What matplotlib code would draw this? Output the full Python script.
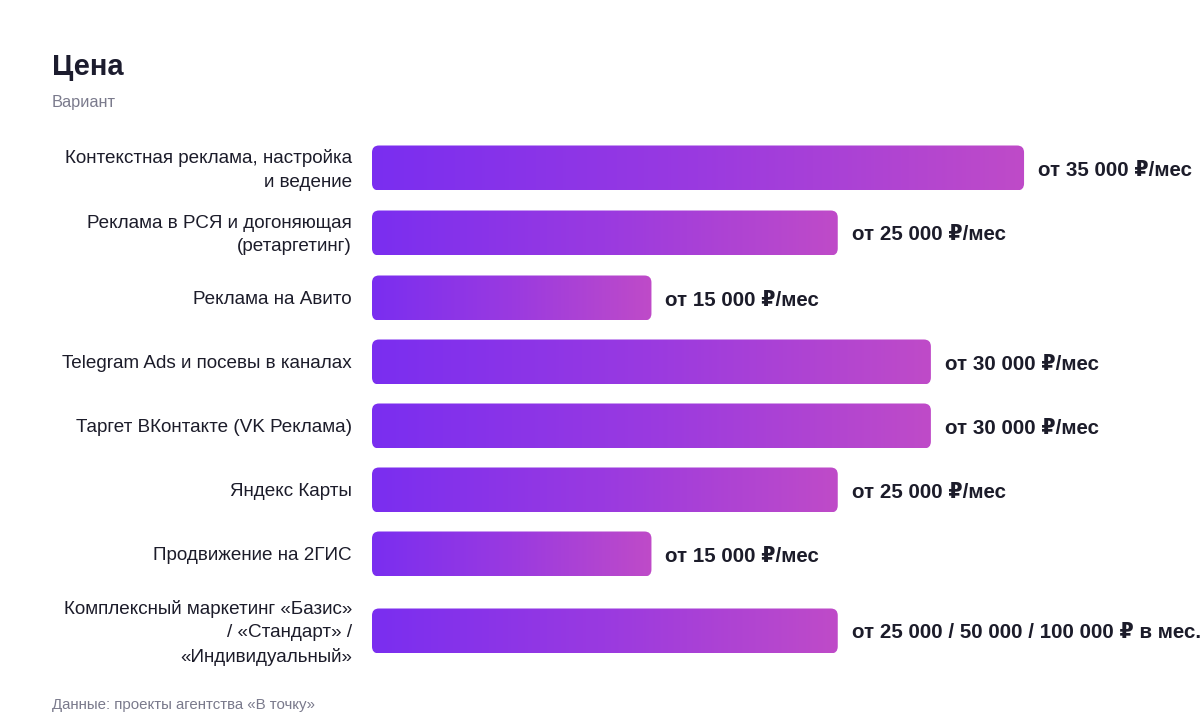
import numpy as np
import matplotlib
matplotlib.use("Agg")
import matplotlib.pyplot as plt
from matplotlib.colors import LinearSegmentedColormap
from matplotlib.patches import FancyBboxPatch

plt.rcParams['font.family'] = ['Liberation Sans', 'DejaVu Sans']

categories = [
    "Контекстная реклама, настройка\nи ведение",
    "Реклама в РСЯ и догоняющая\n(ретаргетинг)",
    "Реклама на Авито",
    "Telegram Ads и посевы в каналах",
    "Таргет ВКонтакте (VK Реклама)",
    "Яндекс Карты",
    "Продвижение на 2ГИС",
    "Комплексный маркетинг «Базис»\n/ «Стандарт» /\n«Индивидуальный»",
]
values = [35000, 25000, 15000, 30000, 30000, 25000, 15000, 25000]
value_labels = [
    "от 35 000 ₽/мес",
    "от 25 000 ₽/мес",
    "от 15 000 ₽/мес",
    "от 30 000 ₽/мес",
    "от 30 000 ₽/мес",
    "от 25 000 ₽/мес",
    "от 15 000 ₽/мес",
    "от 25 000 / 50 000 / 100 000 ₽ в мес.",
]

# row centres in pixels (last row is taller because of the 3-line label)
rows = [168, 233, 298, 362, 426, 490, 554, 631]
bar_h = 45
px_per_unit = 18.63 / 1000.0

W, H = 1200, 712
fig = plt.figure(figsize=(W / 100, H / 100), dpi=100)
fig.patch.set_facecolor("white")

left_px = 372
ax = fig.add_axes([left_px / W, 0, (W - left_px) / W, 1])
xmax = (W - left_px) / px_per_unit
ax.set_xlim(0, xmax)
ax.set_ylim(H, 0)
ax.axis("off")

cmap = LinearSegmentedColormap.from_list("grad", ["#7A2EF0", "#9A3AE0", "#BF4BC8"])
grad = np.linspace(0, 1, 256).reshape(1, -1)
x_per_px = 1 / px_per_unit
radius = 7

for cat, v, lab, y in zip(categories, values, value_labels, rows):
    y0 = y - bar_h / 2
    patch = FancyBboxPatch((0, y0), v, bar_h,
                           boxstyle=f"round,pad=0,rounding_size={radius * x_per_px}",
                           mutation_aspect=1 / x_per_px,
                           facecolor="none", edgecolor="none")
    ax.add_patch(patch)
    im = ax.imshow(grad, cmap=cmap, extent=(0, v, y0 + bar_h, y0), aspect="auto",
                   interpolation="bilinear")
    im.set_clip_path(patch)
    ax.annotate(cat, xy=(0, y), xytext=(-20, -2), textcoords="offset pixels",
                ha="right", va="center", fontsize=13.6, color="#1c1c2a",
                linespacing=1.5, annotation_clip=False)
    ax.annotate(lab, xy=(v, y), xytext=(14, -2), textcoords="offset pixels",
                ha="left", va="center", fontsize=14.8, fontweight="bold",
                color="#1c1c2a", annotation_clip=False)

ax.set_xlim(0, xmax)
ax.set_ylim(H, 0)

fig.text(52 / W, 1 - 67 / H, "Цена", fontsize=21, fontweight="bold",
         color="#1c1c2e", va="center")
fig.text(52 / W, 1 - 103 / H, "Вариант", fontsize=11.8, color="#7a7a8c",
         va="center")
fig.text(52 / W, 1 - 705 / H, "Данные: проекты агентства «В точку»",
         fontsize=10.8, color="#7a7a8c", va="center")

fig.savefig("out.png", dpi=100, facecolor="white")
